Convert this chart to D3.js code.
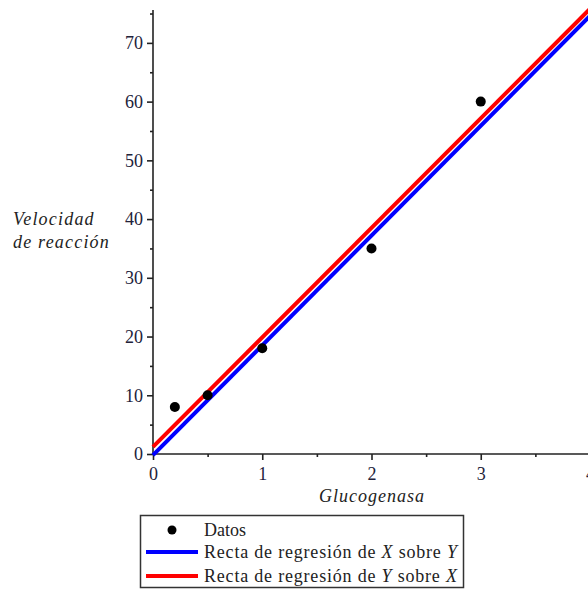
<!DOCTYPE html>
<html>
<head>
<meta charset="utf-8">
<script src="https://cdn.jsdelivr.net/npm/d3@7"></script>
<style>
  body { margin: 0; background: #fff; }
  .chart { width: 588px; height: 590px; }
  text { font-family: "Liberation Serif", "Times New Roman", serif; }
</style>
</head>
<body>
<div class="chart"></div>
<script>
// data
const datosX = [0.2, 0.5, 1, 2, 3];
const datosY = [8, 10, 18, 35, 60];
// regression lines, endpoints at x = 0 and x = 4
const rectaXsobreY = [[0, -0.2], [4, 74.6]];
const rectaYsobreX = [[0, 1.2], [4, 75.8]];
const xTicks = [0, 1, 2, 3, 4];
const xMinor = [0.5, 1.5, 2.5, 3.5];
const yTicks = [0, 10, 20, 30, 40, 50, 60, 70];
const yMinor = [5, 15, 25, 35, 45, 55, 65, 75];

const width = 588, height = 590;
const serif = '"Liberation Serif", "Times New Roman", serif';

const svg = d3.select('.chart')
    .append('svg')
    .attr('width', width)
    .attr('height', height);

const x = d3.scaleLinear().domain([0, 4]).range([153, 590]);
const y = d3.scaleLinear().domain([0, 75.6]).range([454, 10]);

// x axis
svg.append('g')
    .attr('transform', `translate(0,${y(0)})`)
    .call(d3.axisBottom(x).tickValues(xTicks).tickSize(6).tickPadding(7).tickFormat(d3.format('d')))
    .call(g => g.select('.domain').attr('d', `M${x(0)},0H${width}`));
svg.append('g')
    .attr('transform', `translate(0,${y(0)})`)
    .call(d3.axisBottom(x).tickValues(xMinor).tickSize(3).tickFormat(''))
    .call(g => g.select('.domain').remove());

// y axis
svg.append('g')
    .attr('transform', `translate(${x(0)},0)`)
    .call(d3.axisLeft(y).tickValues(yTicks).tickSize(6).tickPadding(4).tickFormat(d3.format('d')))
    .call(g => g.select('.domain').attr('d', `M0,${y(0)}V10`));
svg.append('g')
    .attr('transform', `translate(${x(0)},0)`)
    .call(d3.axisLeft(y).tickValues(yMinor).tickSize(3).tickFormat(''))
    .call(g => g.select('.domain').remove());

svg.selectAll('g').attr('font-family', serif);
svg.selectAll('.domain, .tick line')
    .attr('stroke', '#222')
    .attr('stroke-width', 1.6);
svg.selectAll('.tick text')
    .attr('font-size', 18)
    .attr('fill', '#22223a');

// regression lines
const line = d3.line().x(d => x(d[0])).y(d => y(d[1]));

svg.append('path')
    .datum(rectaXsobreY)
    .attr('d', line)
    .attr('fill', 'none')
    .attr('stroke', '#0000ff')
    .attr('stroke-width', 4);

svg.append('path')
    .datum(rectaYsobreX)
    .attr('d', line)
    .attr('fill', 'none')
    .attr('stroke', '#ff0000')
    .attr('stroke-width', 4);

// data points
svg.selectAll('circle.dato')
    .data(datosX)
    .enter()
    .append('circle')
    .attr('class', 'dato')
    .attr('cx', d => x(d))
    .attr('cy', (d, i) => y(datosY[i]))
    .attr('r', 5)
    .attr('fill', '#000');

// axis labels
svg.append('text')
    .text('Glucogenasa')
    .attr('x', 372)
    .attr('y', 502)
    .attr('text-anchor', 'middle')
    .attr('font-style', 'italic')
    .attr('font-size', 18)
    .attr('letter-spacing', 1)
    .attr('fill', '#222');

svg.append('text')
    .attr('x', 13)
    .attr('y', 225)
    .attr('font-style', 'italic')
    .attr('font-size', 18)
    .attr('letter-spacing', 1.2)
    .attr('fill', '#222')
    .selectAll('tspan')
    .data(['Velocidad', 'de reacción'])
    .enter()
    .append('tspan')
    .attr('x', 13)
    .attr('dy', (d, i) => i === 0 ? 0 : 23)
    .text(d => d);

// legend
const legend = svg.append('g');
legend.append('rect')
    .attr('x', 140.5)
    .attr('y', 515.5)
    .attr('width', 323)
    .attr('height', 72)
    .attr('fill', '#fff')
    .attr('stroke', '#333')
    .attr('stroke-width', 1.5);

legend.append('circle')
    .attr('cx', 172)
    .attr('cy', 530)
    .attr('r', 4.5)
    .attr('fill', '#000');

const legendRows = [
    {y: 552, color: '#0000ff', parts: [['Recta de regresión de ', 'normal'], ['X', 'italic'], [' sobre ', 'normal'], ['Y', 'italic']]},
    {y: 576, color: '#ff0000', parts: [['Recta de regresión de ', 'normal'], ['Y', 'italic'], [' sobre ', 'normal'], ['X', 'italic']]}
];

legend.selectAll('line.sym')
    .data(legendRows)
    .enter()
    .append('line')
    .attr('x1', 146)
    .attr('x2', 198)
    .attr('y1', d => d.y)
    .attr('y2', d => d.y)
    .attr('stroke', d => d.color)
    .attr('stroke-width', 4);

legend.append('text')
    .text('Datos')
    .attr('x', 204)
    .attr('y', 536)
    .attr('font-size', 18)
    .attr('fill', '#222');

legend.selectAll('text.row')
    .data(legendRows)
    .enter()
    .append('text')
    .attr('class', 'row')
    .attr('x', 204)
    .attr('y', d => d.y + 6)
    .attr('font-size', 18)
    .attr('letter-spacing', 0.8)
    .attr('fill', '#222')
    .selectAll('tspan')
    .data(d => d.parts)
    .enter()
    .append('tspan')
    .attr('font-style', d => d[1])
    .text(d => d[0]);
</script>
</body>
</html>
